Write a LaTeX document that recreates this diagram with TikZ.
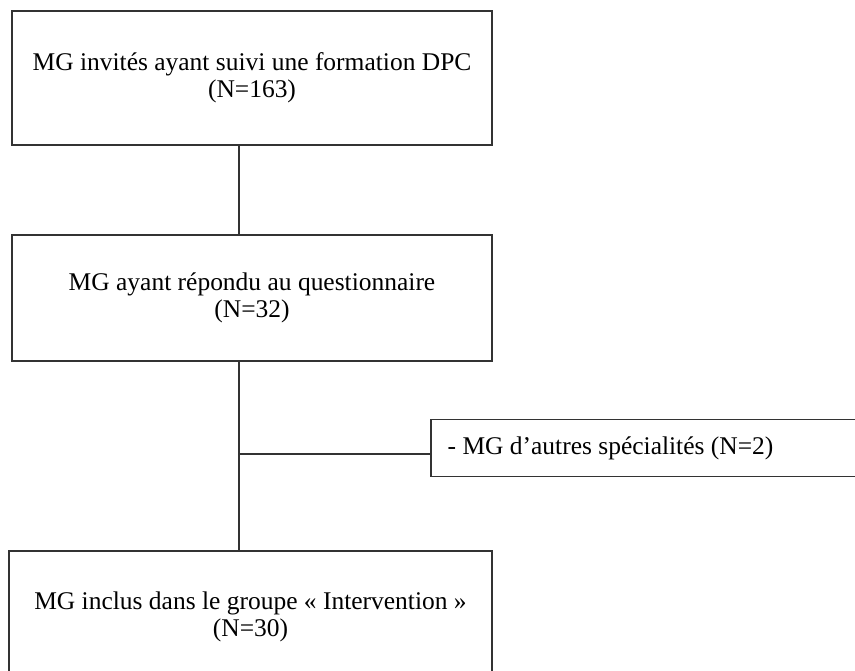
\documentclass[tikz,border=0pt]{standalone}
\usepackage{fontspec}
\setmainfont{Liberation Serif}
\usetikzlibrary{calc}
\tikzset{
  etape/.style={draw=black!80, line width=0.75pt, align=center, inner sep=0pt,
    font=\fontsize{14.5}{15.2}\selectfont},
  lien/.style={draw=black!80, line width=0.75pt}
}

\begin{document}
\begin{tikzpicture}
    \useasboundingbox (0,0) rectangle (17.1,13.4);
    \clip (0,0) rectangle (17.1,13.4);

    %boites
    \node[etape, minimum width=9.6cm, minimum height=2.68cm] (invites) at (5.04,11.84) {MG invités ayant suivi une formation DPC\\(N=163)};
    \node[etape, minimum width=9.6cm, minimum height=2.52cm] (repondu) at (5.04,7.44) {MG ayant répondu au questionnaire\\(N=32)};
    \node[etape, minimum width=9.66cm, minimum height=2.64cm] (inclus) at (5.01,1.06) {MG inclus dans le groupe « Intervention »\\(N=30)};
    \node[etape, draw=none, anchor=west, inner xsep=0.32cm, minimum height=1.12cm] (exclus) at (8.62,4.44) {- MG d’autres spécialités (N=2)};
    \draw[lien] (exclus.north west) rectangle ($(exclus.south west)+(9.2,0)$);

    %liens
    \coordinate (tronc) at (4.78,4.32);
    \draw[lien] (invites.south -| tronc) -- (repondu.north -| tronc);
    \draw[lien] (repondu.south -| tronc) -- (inclus.north -| tronc);
    \draw[lien] (tronc) -- (tronc -| exclus.west);
\end{tikzpicture}
\end{document}
